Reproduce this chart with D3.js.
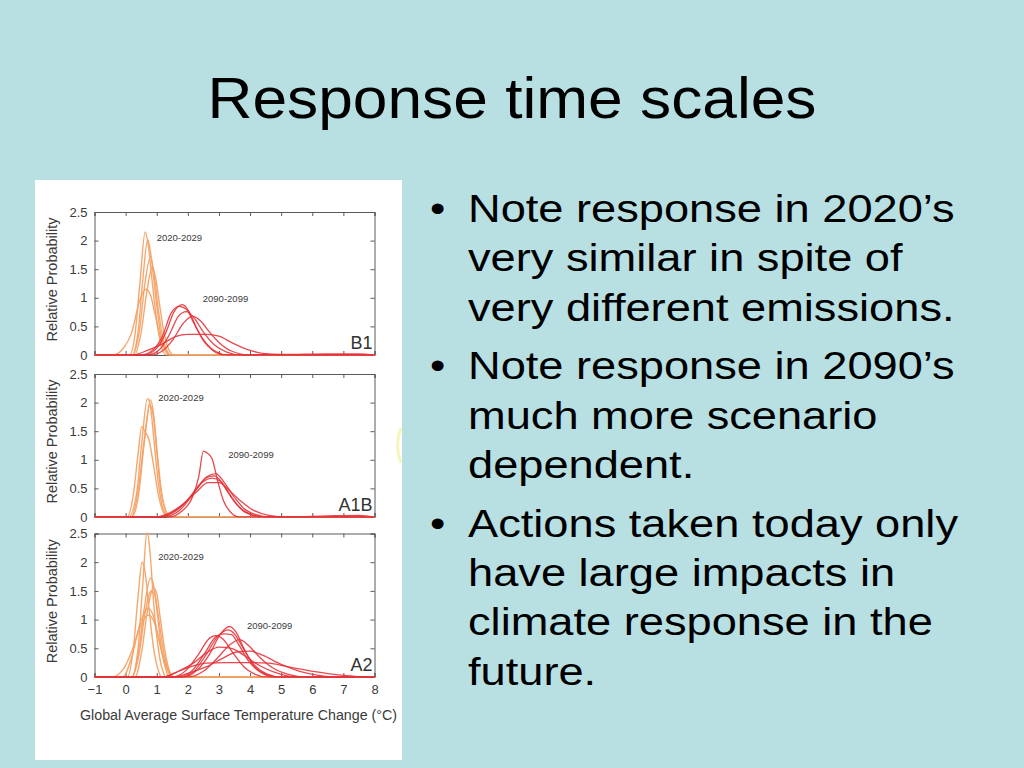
<!DOCTYPE html>
<html><head><meta charset="utf-8">
<script src="https://cdn.jsdelivr.net/npm/d3@7"></script>
<style>
html,body{margin:0;padding:0;background:#b8dfe2;overflow:hidden;}
svg{display:block;font-family:"Liberation Sans",Arial,sans-serif;}
</style></head><body>
<svg id="s" width="1024" height="768"></svg>
<script>
// ---------- data ----------
const title = "Response time scales";
const bullets = [
  ["Note response in 2020\u2019s","very similar in spite of","very different emissions."],
  ["Note response in 2090\u2019s","much more scenario","dependent."],
  ["Actions taken today only","have large impacts in","climate response in the","future."]
];
const scenarios = ["B1","A1B","A2"];
const periodLabels = ["2020-2029","2090-2099"];
const xTicks = [-1,0,1,2,3,4,5,6,7,8];
const xTickLabels = ["\u22121","0","1","2","3","4","5","6","7","8"];
const yTicks = [0,0.5,1,1.5,2,2.5];
const yTickLabels = ["0","0.5","1","1.5","2","2.5"];
const xTitle = "Global Average Surface Temperature Change (\u00B0C)";
const yTitle = "Relative Probability";

// [temperature change, relative probability] points
const b1Near = [
  [[-1,0],[0.12,0],[0.3,0.35],[0.45,1.2],[0.63,2.15],[0.72,1.95],[0.85,1.3],[1.0,0.6],[1.15,0.15],[1.3,0],[8,0]],
  [[-1,0],[0.2,0],[0.4,0.4],[0.55,1.3],[0.71,2.02],[0.8,1.8],[0.95,1.1],[1.1,0.45],[1.25,0.1],[1.4,0],[8,0]],
  [[-1,0],[0.22,0],[0.45,0.45],[0.62,1.25],[0.8,1.72],[0.92,1.4],[1.05,0.8],[1.2,0.3],[1.35,0.05],[1.45,0],[8,0]],
  [[-1,0],[0.28,0],[0.5,0.4],[0.68,1.1],[0.86,1.54],[0.98,1.3],[1.1,0.85],[1.25,0.35],[1.4,0.08],[1.55,0],[8,0]],
  [[-1,0],[-0.4,0],[-0.1,0.1],[0.2,0.4],[0.45,0.95],[0.65,1.15],[0.8,1.05],[0.95,0.7],[1.1,0.35],[1.3,0.08],[1.45,0],[8,0]]
];
const b1Far = [
  [[-1,0],[0.6,0],[1.0,0.12],[1.3,0.4],[1.55,0.75],[1.83,0.88],[2.05,0.75],[2.3,0.45],[2.6,0.2],[2.9,0.06],[3.3,0],[8,0]],
  [[-1,0],[0.5,0],[0.9,0.1],[1.2,0.35],[1.45,0.72],[1.72,0.85],[1.95,0.8],[2.2,0.55],[2.5,0.25],[2.8,0.08],[3.2,0],[8,0]],
  [[-1,0],[0.7,0],[1.1,0.1],[1.4,0.35],[1.7,0.68],[1.95,0.76],[2.2,0.65],[2.5,0.4],[2.85,0.18],[3.25,0.05],[3.7,0],[8,0]],
  [[-1,0],[0.8,0],[1.2,0.08],[1.5,0.25],[1.85,0.55],[2.15,0.68],[2.4,0.6],[2.7,0.4],[3.0,0.22],[3.4,0.07],[4.0,0],[8,0]],
  [[-1,0],[0.2,0],[0.7,0.08],[1.2,0.2],[1.6,0.32],[2.0,0.36],[2.6,0.36],[3.0,0.33],[3.4,0.22],[3.9,0.1],[4.4,0.03],[5.0,0.01],[6.5,0.02],[7.5,0.02],[8,0]]
];
const a1bNear = [
  [[-1,0],[0.1,0],[0.35,0.4],[0.52,1.3],[0.7,2.07],[0.78,2.0],[0.9,1.4],[1.05,0.6],[1.2,0.15],[1.4,0],[8,0]],
  [[-1,0],[0.2,0],[0.42,0.4],[0.6,1.3],[0.8,2.05],[0.9,1.8],[1.02,1.1],[1.15,0.45],[1.3,0.1],[1.45,0],[8,0]],
  [[-1,0],[0.18,0],[0.4,0.45],[0.6,1.35],[0.78,1.95],[0.88,1.8],[1.0,1.15],[1.12,0.5],[1.28,0.12],[1.42,0],[8,0]],
  [[-1,0],[0.05,0],[0.25,0.4],[0.4,1.1],[0.52,1.58],[0.62,1.5],[0.75,1.35],[0.9,0.9],[1.05,0.4],[1.2,0.1],[1.35,0],[8,0]]
];
const a1bFar = [
  [[-1,0],[1.4,0],[1.8,0.1],[2.15,0.35],[2.35,0.7],[2.5,1.15],[2.62,1.12],[2.78,1.02],[2.95,0.65],[3.15,0.28],[3.4,0.07],[3.65,0],[8,0]],
  [[-1,0],[1.0,0],[1.5,0.08],[1.9,0.25],[2.3,0.5],[2.6,0.7],[2.9,0.76],[3.15,0.62],[3.45,0.38],[3.8,0.15],[4.2,0.04],[4.6,0],[8,0]],
  [[-1,0],[1.1,0],[1.6,0.1],[2.0,0.3],[2.35,0.55],[2.65,0.7],[2.85,0.72],[3.1,0.6],[3.4,0.35],[3.75,0.12],[4.2,0.02],[4.5,0],[8,0]],
  [[-1,0],[0.9,0],[1.4,0.07],[1.9,0.25],[2.3,0.45],[2.65,0.6],[3.0,0.6],[3.3,0.48],[3.7,0.28],[4.1,0.12],[4.6,0.03],[5.2,0],[6.5,0.02],[7.5,0.03],[8,0]],
  [[-1,0],[1.2,0],[1.7,0.1],[2.1,0.35],[2.45,0.6],[2.8,0.68],[3.05,0.62],[3.3,0.42],[3.6,0.2],[4.0,0.05],[4.4,0],[8,0]]
];
const a2Near = [
  [[-1,0],[0.2,0],[0.4,0.5],[0.55,1.6],[0.69,2.55],[0.78,2.2],[0.9,1.3],[1.05,0.5],[1.2,0.1],[1.3,0],[8,0]],
  [[-1,0],[0.05,0],[0.25,0.5],[0.4,1.4],[0.53,2.0],[0.62,1.85],[0.75,1.2],[0.9,0.5],[1.05,0.12],[1.15,0],[8,0]],
  [[-1,0],[0.2,0],[0.42,0.45],[0.6,1.2],[0.8,1.72],[0.9,1.6],[1.02,1.1],[1.15,0.5],[1.3,0.12],[1.4,0],[8,0]],
  [[-1,0],[0.3,0],[0.52,0.45],[0.7,1.15],[0.9,1.55],[1.0,1.45],[1.12,1.0],[1.25,0.5],[1.4,0.12],[1.5,0],[8,0]],
  [[-1,0],[0.2,0],[0.45,0.45],[0.62,1.1],[0.82,1.5],[0.95,1.4],[1.08,0.95],[1.22,0.45],[1.38,0.1],[1.5,0],[8,0]],
  [[-1,0],[-0.1,0],[0.2,0.35],[0.45,0.9],[0.72,1.2],[0.9,1.05],[1.05,0.7],[1.2,0.35],[1.38,0.08],[1.5,0],[8,0]],
  [[-1,0],[-0.45,0],[-0.1,0.12],[0.2,0.45],[0.45,0.85],[0.72,1.08],[0.9,0.98],[1.05,0.7],[1.25,0.3],[1.42,0.08],[1.55,0],[8,0]]
];
const a2Far = [
  [[-1,0],[1.9,0],[2.3,0.12],[2.7,0.4],[3.05,0.75],[3.34,0.88],[3.55,0.78],[3.8,0.5],[4.1,0.2],[4.5,0.05],[4.9,0],[8,0]],
  [[-1,0],[1.8,0],[2.2,0.1],[2.6,0.4],[2.95,0.7],[3.3,0.82],[3.5,0.75],[3.8,0.48],[4.15,0.2],[4.55,0.05],[5.0,0],[8,0]],
  [[-1,0],[1.7,0],[2.15,0.12],[2.55,0.42],[2.9,0.7],[3.15,0.75],[3.4,0.74],[3.65,0.55],[3.95,0.28],[4.35,0.08],[4.8,0],[8,0]],
  [[-1,0],[1.5,0],[1.95,0.12],[2.35,0.4],[2.65,0.65],[2.9,0.72],[3.15,0.65],[3.45,0.42],[3.8,0.18],[4.15,0.05],[4.5,0],[8,0]],
  [[-1,0],[2.0,0],[2.5,0.1],[2.95,0.33],[3.35,0.56],[3.66,0.65],[3.95,0.55],[4.3,0.35],[4.7,0.17],[5.2,0.05],[5.8,0],[8,0]],
  [[-1,0],[1.2,0],[1.7,0.1],[2.2,0.25],[2.6,0.42],[3.0,0.52],[3.4,0.5],[3.8,0.38],[4.3,0.2],[4.8,0.08],[5.5,0],[8,0]],
  [[-1,0],[1.5,0],[2.1,0.08],[2.6,0.18],[3.1,0.32],[3.6,0.44],[4.0,0.45],[4.4,0.38],[5.0,0.22],[5.6,0.1],[6.2,0.03],[6.8,0],[8,0]],
  [[-1,0],[1.2,0],[1.7,0.1],[2.1,0.18],[2.6,0.24],[3.2,0.25],[4.0,0.25],[4.6,0.24],[5.2,0.18],[5.8,0.12],[6.5,0.06],[7.2,0.02],[7.8,0],[8,0]]
];
const nearCurves = [b1Near, a1bNear, a2Near];
const farCurves = [b1Far, a1bFar, a2Far];
// label anchor positions in data units [x, y]
const nearLabelPos = [[1.0,2.0],[1.05,2.03],[1.05,2.03]];
const farLabelPos = [[2.48,0.92],[3.3,1.03],[3.9,0.84]];

// ---------- layout ----------
const svg = d3.select("#s");
svg.append("rect").attr("width",1024).attr("height",768).attr("fill","#b8dfe2");

svg.append("text").attr("x",512).attr("y",118).attr("text-anchor","middle")
  .attr("font-size",57).attr("textLength",609).attr("lengthAdjust","spacingAndGlyphs")
  .attr("fill","#000").text(title);

// bullets
let by = 222;
bullets.forEach((lines,bi)=>{
  svg.append("text").attr("transform",`translate(430,${by}) scale(1.15,1)`)
    .attr("font-size",38).attr("fill","#000").text("\u2022");
  lines.forEach((ln,li)=>{
    svg.append("text").attr("transform",`translate(468,${by + li*49.4}) scale(1.19,1)`)
      .attr("font-size",38).attr("fill","#000").text(ln);
  });
  by += (lines.length-1)*49.4 + 58.5;
});

// image panel
svg.append("rect").attr("x",35).attr("y",180).attr("width",367).attr("height",580).attr("fill","#fff");
// faint yellow glow at panel edge
svg.append("path").attr("d","M401,428 Q394,445 401,463").attr("fill","none")
  .attr("stroke","#f3f3a8").attr("stroke-width",3).attr("opacity",0.8);

const x = d3.scaleLinear().domain([-1,8]).range([94.5,374.5]);
const panels = [{top:212,bottom:355},{top:374,bottom:517},{top:533.5,bottom:677}];
const axisCol = "#5a5a5a";
const orange = "#f4a266", red = "#e5343a";

panels.forEach((p,i)=>{
  const y = d3.scaleLinear().domain([0,2.5]).range([p.bottom,p.top]);
  const g = svg.append("g");
  const cid = "clip"+i;
  svg.append("clipPath").attr("id",cid).append("rect")
    .attr("x",x(-1)).attr("y",p.top-1).attr("width",x(8)-x(-1)).attr("height",p.bottom-p.top+1.5);

  // frame and ticks
  g.append("g").attr("transform",`translate(0,${p.bottom})`)
    .call(d3.axisBottom(x).tickValues(xTicks).tickSize(-4).tickFormat((d,k)=> i===2 ? xTickLabels[k] : ""))
    .call(a=>{a.select(".domain").attr("stroke",axisCol);a.selectAll(".tick line").attr("stroke",axisCol);
      a.selectAll("text").attr("font-size",13).attr("fill","#3a3a3a").attr("dy","1.1em").attr("font-family","Liberation Sans, Arial");});
  g.append("g").attr("transform",`translate(0,${p.top})`)
    .call(d3.axisTop(x).tickValues(xTicks).tickSize(-4).tickFormat(""))
    .call(a=>{a.select(".domain").attr("stroke",axisCol);a.selectAll(".tick line").attr("stroke",axisCol);});
  g.append("g").attr("transform",`translate(${x(-1)},0)`)
    .call(d3.axisLeft(y).tickValues(yTicks).tickSize(-4).tickPadding(7).tickFormat((d,k)=>yTickLabels[k]))
    .call(a=>{a.select(".domain").attr("stroke",axisCol);a.selectAll(".tick line").attr("stroke",axisCol);
      a.selectAll("text").attr("font-size",13).attr("fill","#3a3a3a").attr("font-family","Liberation Sans, Arial");});
  g.append("g").attr("transform",`translate(${x(8)},0)`)
    .call(d3.axisRight(y).tickValues(yTicks).tickSize(-4).tickFormat(""))
    .call(a=>{a.select(".domain").attr("stroke",axisCol);a.selectAll(".tick line").attr("stroke",axisCol);});

  const line = d3.line().x(d=>x(d[0])).y(d=>y(d[1])).curve(d3.curveMonotoneX);
  const cg = svg.append("g").attr("clip-path",`url(#${cid})`);
  cg.selectAll("path.n").data(nearCurves[i]).join("path").attr("class","n")
    .attr("d",line).attr("fill","none").attr("stroke",orange).attr("stroke-width",1.4).attr("opacity",0.95);
  cg.selectAll("path.f").data(farCurves[i]).join("path").attr("class","f")
    .attr("d",line).attr("fill","none").attr("stroke",red).attr("stroke-width",1.3).attr("opacity",0.9);

  // labels
  svg.append("text").attr("x",x(nearLabelPos[i][0])).attr("y",y(nearLabelPos[i][1]))
    .attr("font-size",9.5).attr("fill","#3a3a3a").text(periodLabels[0]);
  svg.append("text").attr("x",x(farLabelPos[i][0])).attr("y",y(farLabelPos[i][1]))
    .attr("font-size",9.5).attr("fill","#3a3a3a").text(periodLabels[1]);
  svg.append("text").attr("x",x(8)-2).attr("y",p.bottom-6).attr("text-anchor","end")
    .attr("font-size",18).attr("fill","#333").text(scenarios[i]);
  svg.append("text").attr("transform",`translate(57,${(p.top+p.bottom)/2-4}) rotate(-90)`)
    .attr("text-anchor","middle").attr("font-size",14.5).attr("fill","#3a3a3a").text(yTitle);
});

svg.append("text").attr("x",80).attr("y",720).attr("font-size",14).attr("fill","#3a3a3a")
  .attr("textLength",317).attr("lengthAdjust","spacingAndGlyphs").text(xTitle);
</script></body></html>
